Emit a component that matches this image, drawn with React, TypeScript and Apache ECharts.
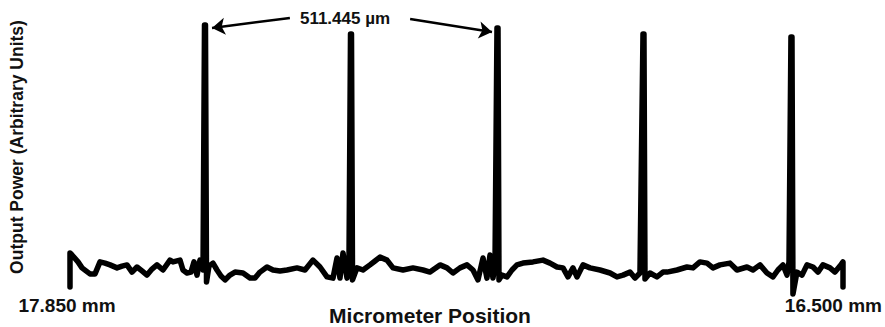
import React, { useEffect, useRef } from "react";
import * as echarts from "echarts";

const positionMm = [
  17.85, 17.85, 17.8465, 17.836, 17.829, 17.8221, 17.8151, 17.8063, 17.7976, 17.7889,
  17.7801, 17.7679, 17.7592, 17.7505, 17.7417, 17.733, 17.7243, 17.7155, 17.7068, 17.6981,
  17.6876, 17.6754, 17.6701, 17.6579, 17.6527, 17.6457, 17.6387, 17.6334, 17.6282, 17.623,
  17.6177, 17.6151, 17.6134, 17.6116, 17.6073, 17.6003, 17.5933, 17.5863, 17.5793, 17.5706,
  17.5618, 17.5479, 17.5356, 17.5269, 17.5182, 17.506, 17.4955, 17.4833, 17.471, 17.4536,
  17.4396, 17.4256, 17.4134, 17.4012, 17.3907, 17.3837, 17.3785, 17.3732, 17.3662, 17.3628,
  17.3601, 17.3584, 17.3566, 17.3488, 17.3383, 17.3261, 17.3173, 17.3086, 17.2964, 17.2859,
  17.2684, 17.251, 17.2335, 17.2213, 17.2038, 17.1916, 17.1811, 17.1689, 17.1567, 17.1462,
  17.1375, 17.1287, 17.1218, 17.1165, 17.1113, 17.1078, 17.1043, 17.1025, 17.1008, 17.0956,
  17.0868, 17.0781, 17.0694, 17.0589, 17.0414, 17.024, 17.0117, 16.9995, 16.989, 16.9803,
  16.9716, 16.9646, 16.9541, 16.9419, 16.9244, 16.9069, 16.8947, 16.8842, 16.872, 16.8633,
  16.8546, 16.8493, 16.8476, 16.8458, 16.8371, 16.8249, 16.8144, 16.8074, 16.7899, 16.7725,
  16.762, 16.7498, 16.7375, 16.7271, 16.7148, 16.6974, 16.6852, 16.6677, 16.6572, 16.645,
  16.6328, 16.6223, 16.6136, 16.6048, 16.5978, 16.5943, 16.5909, 16.5891, 16.5874, 16.5804,
  16.5716, 16.5629, 16.5524, 16.5437, 16.535, 16.5227, 16.514, 16.5053, 16.5, 16.5,
];

// Output power (arbitrary units) at each position
const outputPower = [
  4.3, 15.7, 15.0, 12.7, 10.7, 9.7, 8.7, 8.7, 12.7, 12.3,
  11.7, 10.7, 11.3, 11.7, 9.3, 11.0, 9.7, 8.3, 10.3, 11.7,
  10.0, 13.3, 12.7, 13.3, 10.0, 9.0, 9.3, 12.7, 8.3, 13.3,
  10.0, 91.7, 91.7, 6.0, 11.3, 12.3, 10.0, 8.0, 6.7, 8.3,
  9.3, 9.0, 7.3, 7.3, 9.3, 11.0, 10.0, 9.7, 10.0, 10.7,
  10.0, 13.3, 11.0, 7.7, 7.3, 14.0, 7.3, 15.7, 7.3, 11.7,
  88.7, 88.7, 6.7, 10.7, 10.0, 11.7, 13.0, 14.3, 13.3, 10.7,
  10.0, 10.7, 10.0, 9.3, 11.7, 10.7, 9.0, 10.7, 11.7, 10.0,
  6.7, 14.0, 7.3, 15.0, 7.3, 11.3, 90.7, 90.7, 6.7, 8.3,
  7.7, 10.0, 11.7, 12.3, 12.7, 13.3, 12.3, 11.0, 10.7, 7.7,
  10.7, 7.7, 11.7, 10.7, 10.0, 9.0, 7.7, 8.3, 9.3, 7.3,
  9.0, 88.7, 88.7, 7.0, 9.0, 7.7, 9.3, 9.3, 10.0, 11.0,
  10.7, 12.7, 12.3, 10.7, 11.7, 12.3, 10.0, 11.0, 10.0, 11.7,
  9.0, 7.7, 10.0, 11.7, 8.3, 12.7, 87.7, 87.7, 2.0, 9.3,
  8.3, 11.7, 11.0, 9.3, 11.7, 10.7, 9.3, 11.3, 12.7, 4.3,
];

const xMinMm = 16.5;
const xMaxMm = 17.85;
const tickLabels = ["17.850 mm", "16.500 mm"];
const xAxisTitle = "Micrometer Position";
const yAxisTitle = "Output Power (Arbitrary Units)";
const annotationText = "511.445 µm";
// Arrow annotations: [start, end] in (mm, power)
const arrowLeft = [[17.466, 94.0], [17.602, 90.7]];
const arrowRight = [[17.256, 93.7], [17.113, 89.3]];

const FONT = "'Liberation Sans', Arial, Helvetica, sans-serif";

export default function App() {
  const ref = useRef<HTMLDivElement>(null);

  useEffect(() => {
    if (!ref.current) return;
    const chart = echarts.init(ref.current, undefined, { renderer: "svg" });
    const data = positionMm.map((x, i) => [x, outputPower[i]]);
    const arrowData = [arrowLeft, arrowRight].map((a) => [
      { coord: a[0] },
      { coord: a[1] },
    ]);

    chart.setOption({
      animation: false,
      backgroundColor: "#ffffff",
      grid: { left: 70, right: 42, top: 0, bottom: 27 },
      xAxis: {
        type: "value",
        min: xMinMm,
        max: xMaxMm,
        inverse: true,
        show: false,
      },
      yAxis: {
        type: "value",
        min: 0,
        max: 100,
        show: false,
      },
      series: [
        {
          type: "line",
          data,
          showSymbol: false,
          clip: false,
          silent: true,
          lineStyle: { color: "#000000", width: 5.5, join: "round", cap: "round" },
          markLine: {
            silent: true,
            animation: false,
            symbol: ["none", "arrow"],
            symbolSize: 13,
            label: { show: false },
            lineStyle: { color: "#000000", width: 2.5, type: "solid" },
            emphasis: { disabled: true },
            data: arrowData,
          },
        },
      ],
      graphic: [
        {
          type: "text",
          x: 345,
          y: 18,
          style: {
            text: annotationText,
            fontFamily: FONT,
            fontWeight: "bold",
            fontSize: 17,
            fill: "#111",
            textAlign: "center",
            textVerticalAlign: "middle",
          },
        },
        {
          type: "text",
          x: 67,
          y: 305,
          style: {
            text: tickLabels[0],
            fontFamily: FONT,
            fontWeight: "bold",
            fontSize: 19,
            fill: "#111",
            textAlign: "center",
            textVerticalAlign: "middle",
          },
        },
        {
          type: "text",
          x: 882,
          y: 305,
          style: {
            text: tickLabels[1],
            fontFamily: FONT,
            fontWeight: "bold",
            fontSize: 19,
            fill: "#111",
            textAlign: "right",
            textVerticalAlign: "middle",
          },
        },
        {
          type: "text",
          x: 430,
          y: 315,
          style: {
            text: xAxisTitle,
            fontFamily: FONT,
            fontWeight: "bold",
            fontSize: 21,
            fill: "#111",
            textAlign: "center",
            textVerticalAlign: "middle",
          },
        },
        {
          type: "text",
          x: 17,
          y: 147,
          rotation: Math.PI / 2,
          style: {
            text: yAxisTitle,
            fontFamily: FONT,
            fontWeight: "bold",
            fontSize: 17.5,
            fill: "#111",
            textAlign: "center",
            textVerticalAlign: "middle",
          },
        },
      ],
    });

    return () => chart.dispose();
  }, []);

  return (
    <div
      ref={ref}
      style={{ position: "fixed", left: 0, top: 0, width: 885, height: 327, background: "#fff" }}
    />
  );
}
